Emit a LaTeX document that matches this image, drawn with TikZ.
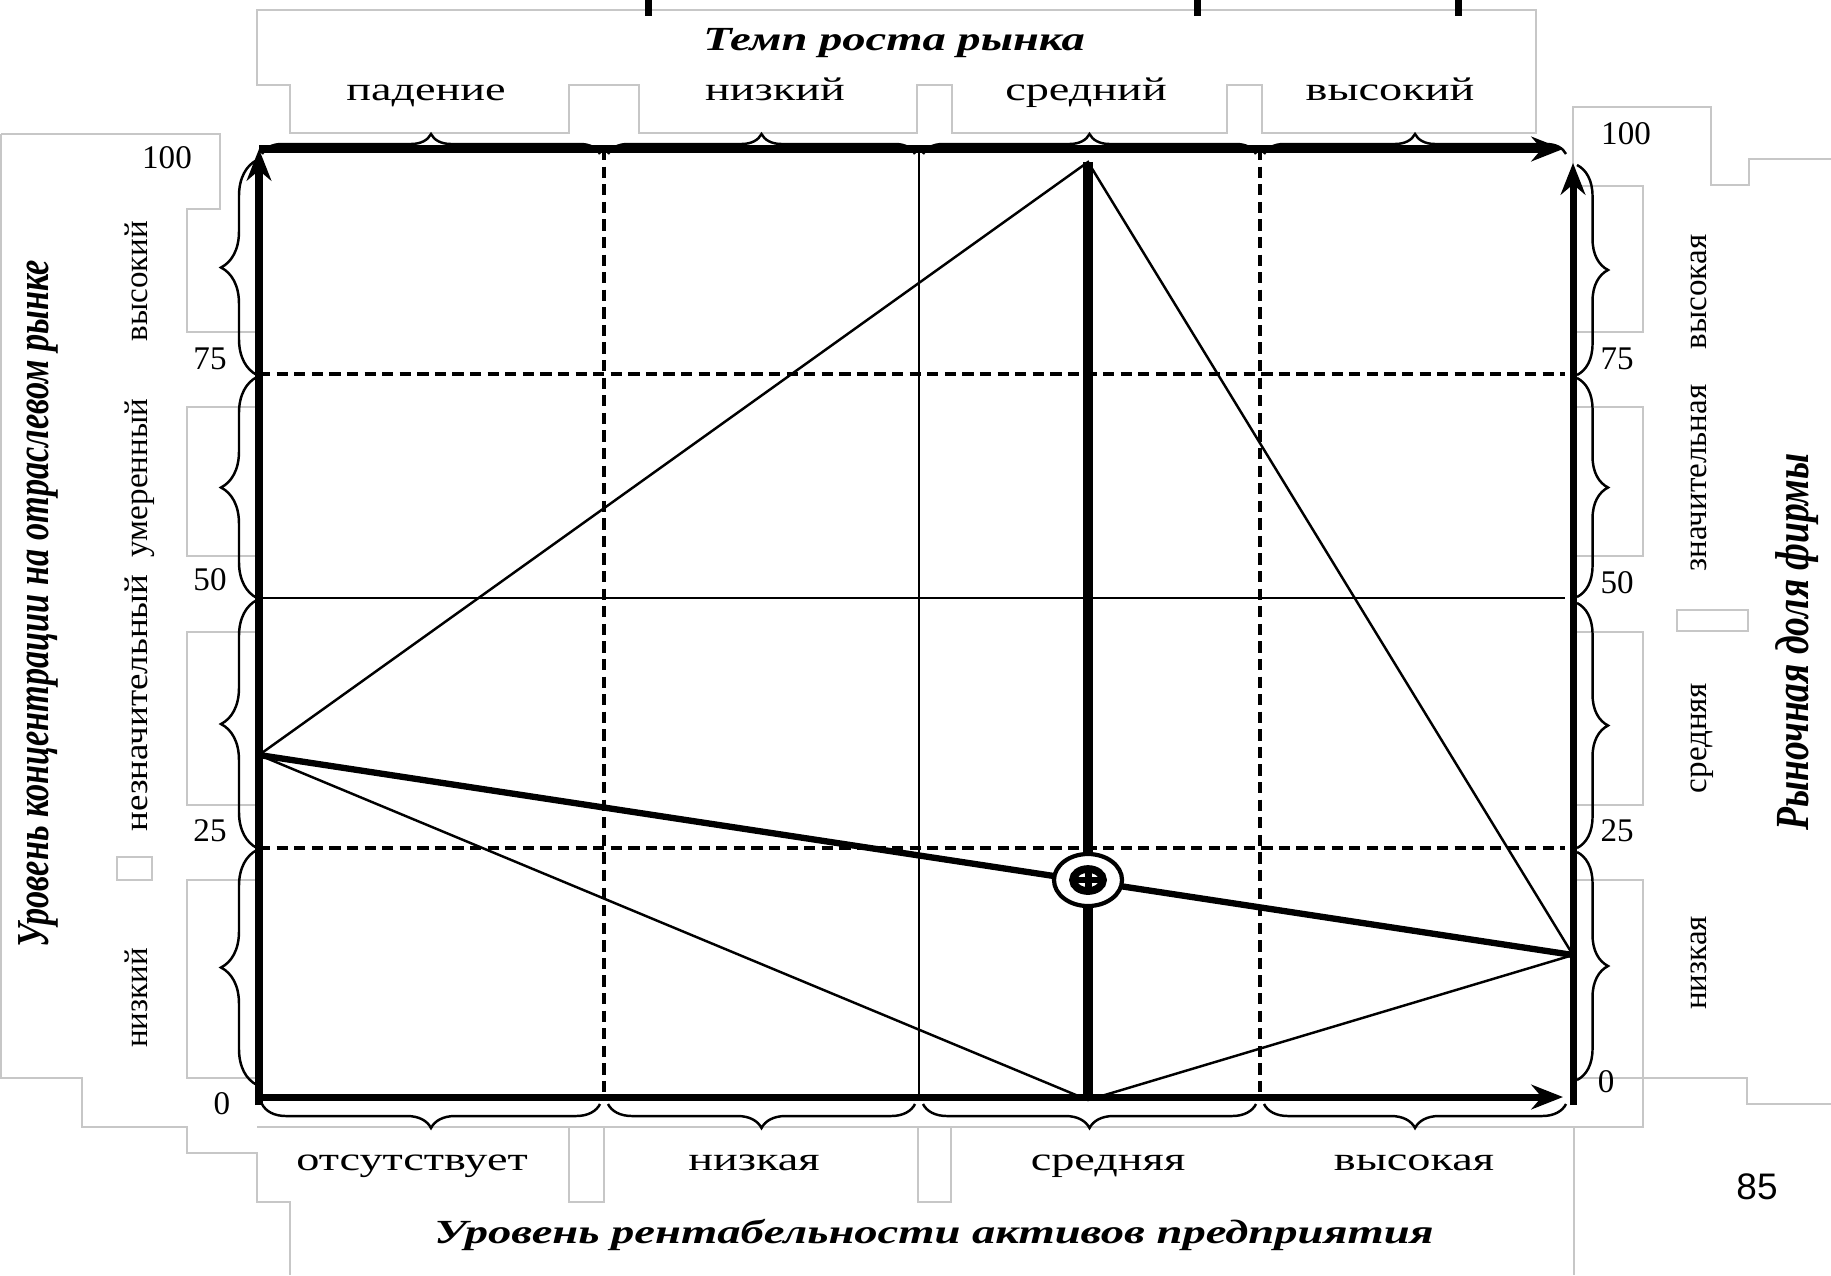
\documentclass[tikz,border=0pt]{standalone}
\usepackage{fontspec}
\setmainfont{Liberation Serif}
\newfontfamily\widefont[FakeStretch=1.4]{Liberation Serif}
\newfontfamily\midfont[FakeStretch=1.12]{Liberation Serif}
\newfontfamily\headfont[FakeStretch=1.38]{Liberation Serif}
\newfontfamily\lefthead[FakeStretch=0.75]{Liberation Serif}
\newfontfamily\righthead[FakeStretch=0.79]{Liberation Serif}
\newfontfamily\pagefont{Liberation Sans}
\usetikzlibrary{arrows.meta,decorations.pathreplacing,shapes.geometric}
\tikzset{%
    >={Stealth[length=9pt,width=7pt]},
    ax/.style={line width=2pt},
    gline/.style={line width=0.8pt},
    dline/.style={line width=1.1pt,dash pattern=on 3.2pt off 1.8pt},
    ray/.style={line width=0.7pt},
    bray/.style={line width=1.8pt},
    stem/.style={line width=3pt},
    frm/.style={draw=black!22,line width=0.6pt},
    brc/.style={decorate,line width=0.7pt,decoration={brace,amplitude=#1}},
    every node/.style={inner sep=0pt},
    num/.style={font=\fontsize{9.4}{10}\selectfont},
    wlbl/.style={font=\widefont\fontsize{9.4}{10}\selectfont,anchor=base},
    vlbl/.style={font=\fontsize{9.4}{10}\selectfont,rotate=90,text height=1.5ex,text depth=.3ex},
    ttl/.style={font=\headfont\bfseries\itshape\fontsize{9.6}{11}\selectfont,anchor=base},
    vttl/.style={font=\bfseries\itshape\fontsize{13}{14}\selectfont,rotate=90},
    eq/.style={ellipse,draw,fill=white,line width=1.2pt,minimum width=6.8mm,minimum height=5.2mm}
}

\begin{document}
\begin{tikzpicture}[x=0.01cm,y=-0.01cm]
\useasboundingbox (0,0) rectangle (1831,1275);
% grey frames of the text boxes
\draw[frm] (257,10) -- (1536,10) -- (1536,133) -- (1262,133) -- (1262,85) -- (1227,85)
    -- (1227,133) -- (952,133) -- (952,85) -- (917,85) -- (917,133) -- (639,133)
    -- (639,85) -- (569,85) -- (569,133) -- (290,133) -- (290,85) -- (257,85) -- cycle;
\draw[frm] (1,134) -- (220,134) -- (220,209) -- (187,209) -- (187,332) -- (257,332)
    -- (257,407) -- (187,407) -- (187,556) -- (257,556) -- (257,632) -- (187,632)
    -- (187,805) -- (257,805) -- (257,880) -- (187,880) -- (187,1078) -- (257,1078);
\draw[frm] (1,134) -- (1,1078) -- (82,1078) -- (82,1127) -- (187,1127) -- (187,1153)
    -- (257,1153) -- (257,1202) -- (290,1202) -- (290,1275);
\draw[frm] (257,1127) -- (1643,1127) -- (1643,1078) -- (1747,1078) -- (1747,1104) -- (1831,1104);
\draw[frm] (569,1127) -- (569,1202) -- (604,1202) -- (604,1127);
\draw[frm] (918,1127) -- (918,1202) -- (951,1202) -- (951,1127);
\draw[frm] (1574,1127) -- (1574,1275);
\draw[frm] (1573,186) -- (1573,107) -- (1711,107) -- (1711,185) -- (1749,185) -- (1749,159) -- (1831,159);
\foreach \ya/\yb in {186/332,407/556,632/805,880/1078}
    \draw[frm] (1573,\ya) -- (1643,\ya) -- (1643,\yb) -- (1573,\yb);
\draw[frm] (117,857) rectangle (152,880);
\draw[frm] (1677,610) rectangle (1748,631);
% bits of the cut title
\fill (645,0) rectangle (652,16);
\fill (1194,0) rectangle (1201,16);
\fill (1455,0) rectangle (1462,16);

\coordinate (ul) at (259,149);
\coordinate (ll) at (259,1105);
\coordinate (lr) at (1573,1105);
\coordinate (ll0) at (259,1097);
\coordinate (ue) at (1563,149);
\coordinate (le) at (1563,1097);
\coordinate (ur) at (1573,163);
\coordinate (L) at (259,755);
\coordinate (R) at (1573,955);
\coordinate (T) at (1088,162);
\coordinate (B) at (1088,1100);

% grid
\draw[dline] (604,149) -- (604,1097);
\draw[dline] (1260,149) -- (1260,1097);
\draw[gline] (919,149) -- (919,1097);
\draw[dline] (259,374) -- (1565,374);
\draw[gline] (259,598) -- (1565,598);
\draw[dline] (259,848) -- (1565,848);

% axes
\draw[ax,->] (ul) -- (ue);
\draw[ax,->] (ll0) -- (le);
\draw[ax,->] (ll) -- (ul);
\draw[ax,->] (lr) -- (ur);

% braces
\foreach \ya/\yb in {375/160,598/377,848/600,1085/850}
    \draw[brc=3.6mm] (257,\ya) -- (257,\yb);
\foreach \ya/\yb in {165/375,378/597,603/848,852/1080}
    \draw[brc=3.1mm] (1577,\ya) -- (1577,\yb);
\foreach \xa/\xb in {262/600,608/915,923/1256,1264/1566}
    \draw[brc=2mm] (\xa,154) -- (\xb,154);
\foreach \xa/\xb in {600/262,915/608,1256/923,1566/1264}
    \draw[brc=2.4mm] (\xa,1104) -- (\xb,1104);

% the polygon
\draw[ray] (L) -- (T) -- (R) -- (B) -- cycle;
\draw[bray] (L) -- (R);
\draw[stem] (T) -- (B);
\node[eq] (F) at (1088,880) {};
\draw[line width=2.2pt] (F.center) ellipse (15 and 11);
\draw[line width=2pt] ([yshift=-1.4mm]F.center) -- ([yshift=1.4mm]F.center);
\draw[line width=1.6pt] ([xshift=-1.6mm]F.center) -- ([xshift=1.6mm]F.center);

% top
\node[ttl] (tempo) at (894,50) {Темп роста рынка};
\node[wlbl] (t1) at (426,100) {падение};
\node[wlbl] (t2) at (775,100) {низкий};
\node[wlbl] (t3) at (1086,100) {средний};
\node[wlbl] (t4) at (1390,100) {высокий};
% bottom
\node[wlbl] (b1) at (412,1170) {отсутствует};
\node[wlbl] (b2) at (754,1170) {низкая};
\node[wlbl] (b3) at (1108,1170) {средняя};
\node[wlbl] (b4) at (1414,1170) {высокая};
\node[ttl] (rent) at (934,1243) {Уровень рентабельности активов предприятия};
% left
\node[vttl,font=\lefthead\bfseries\itshape\fontsize{13}{14}\selectfont] (konc) at (38,604) {Уровень концентрации на отраслевом рынке};
\node[vlbl] (l4) at (138,281) {высокий};
\node[vlbl] (l3) at (138,478) {умеренный};
\node[vlbl,font=\midfont\fontsize{9.4}{10}\selectfont] (l2) at (138,703) {незначительный};
\node[vlbl] (l1) at (138,998) {низкий};
\node[num] (n100) at (167,158) {100};
\node[num] (n75) at (210,359) {75};
\node[num] (n50) at (210,580) {50};
\node[num] (n25) at (210,831) {25};
\node[num] (n0) at (222,1104) {0};
% right
\node[vttl,font=\righthead\bfseries\itshape\fontsize{13.5}{14}\selectfont] (dolya) at (1797,642) {Рыночная доля фирмы};
\node[vlbl] (r4) at (1697,292) {высокая};
\node[vlbl] (r3) at (1697,478) {значительная};
\node[vlbl] (r2) at (1697,738) {средняя};
\node[vlbl] (r1) at (1697,963) {низкая};
\node[num] (m100) at (1626,134) {100};
\node[num] (m75) at (1617,359) {75};
\node[num] (m50) at (1617,583) {50};
\node[num] (m25) at (1617,831) {25};
\node[num] (m0) at (1606,1082) {0};
\node[font=\pagefont\fontsize{10.5}{12}\selectfont] (pg) at (1757,1187) {85};
\end{tikzpicture}
\end{document}
